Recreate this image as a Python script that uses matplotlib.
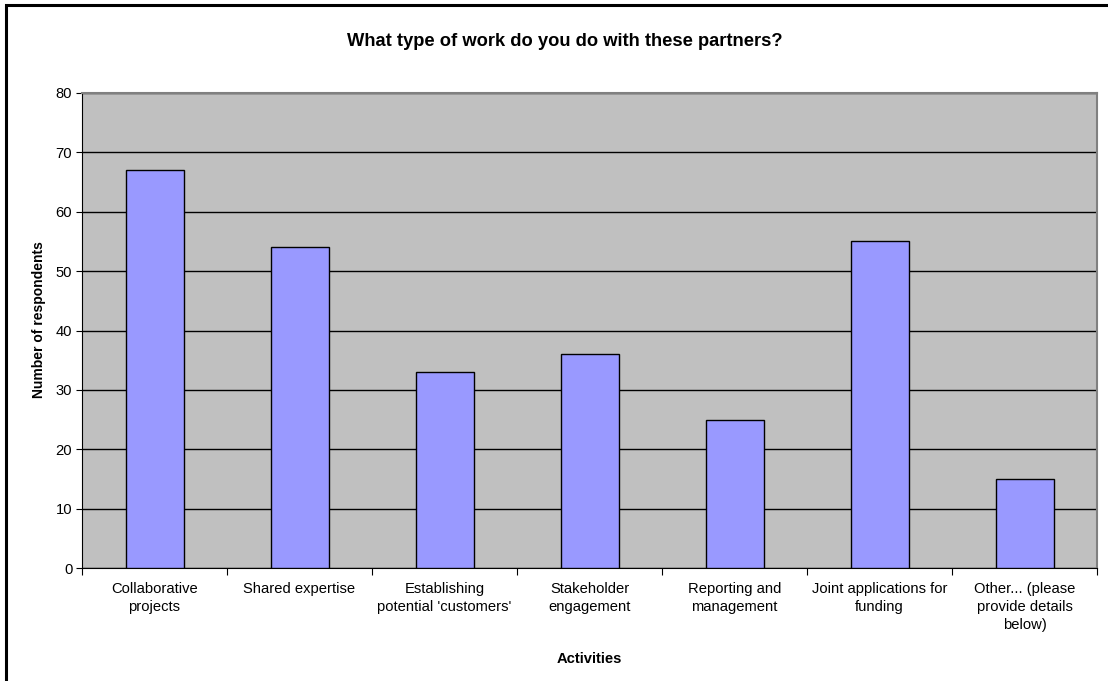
import matplotlib
matplotlib.use("Agg")
import matplotlib.pyplot as plt
from matplotlib.patches import Rectangle

categories = ["Collaborative\nprojects", "Shared expertise", "Establishing\npotential 'customers'",
              "Stakeholder\nengagement", "Reporting and\nmanagement", "Joint applications for\nfunding",
              "Other... (please\nprovide details\nbelow)"]
values = [67, 54, 33, 36, 25, 55, 15]

plt.rcParams['font.family'] = ['Liberation Sans', 'DejaVu Sans']

W, H = 1108, 681
fig = plt.figure(figsize=(W/100, H/100), dpi=100)
fig.patch.set_facecolor('white')
ax = fig.add_axes([82/W, 1-568/H, (1097-82)/W, (568-93)/H])
ax.set_facecolor('#C0C0C0')

x = list(range(len(categories)))
ax.bar(x, values, width=0.4, color='#9999FF', edgecolor='black', linewidth=1, zorder=3)
ax.set_xlim(-0.5, len(categories)-0.5)
ax.set_ylim(0, 80)
ax.set_yticks(range(0, 81, 10))
ax.yaxis.grid(True, color='black', linewidth=1, zorder=1)
ax.set_axisbelow(True)

ax.set_xticks([i - 0.5 for i in range(len(categories)+1)])
ax.set_xticklabels([])
ax.set_xticks(x, minor=True)
ax.set_xticklabels(categories, minor=True, fontsize=10.6, linespacing=1.35)
ax.tick_params(axis='x', which='minor', length=0, pad=10)
ax.tick_params(axis='x', which='major', length=5, direction='out', color='black')
ax.tick_params(axis='y', length=4, direction='out', labelsize=10.6, pad=3)

for s in ['top', 'right']:
    ax.spines[s].set_color('#808080')
    ax.spines[s].set_linewidth(1.5)
ax.spines['left'].set_color('black')
ax.spines['bottom'].set_color('black')

ax.set_ylabel('Number of respondents', fontsize=10, fontweight='bold')
ax.yaxis.set_label_coords((46-82)/(1097-82), (568-320)/(568-93))
ax.set_xlabel('Activities', fontsize=10.6, fontweight='bold')
ax.xaxis.set_label_coords(0.5, (568-652)/(568-93))
fig.text(565/W, 1-42/H, 'What type of work do you do with these partners?',
         ha='center', va='center', fontsize=13.2, fontweight='bold')

fig.patches.append(Rectangle((6/W, -0.1), 1.2, 1-5/H+0.1, transform=fig.transFigure,
                             fill=False, edgecolor='black', linewidth=2.2))

fig.savefig('out.png', dpi=100)
